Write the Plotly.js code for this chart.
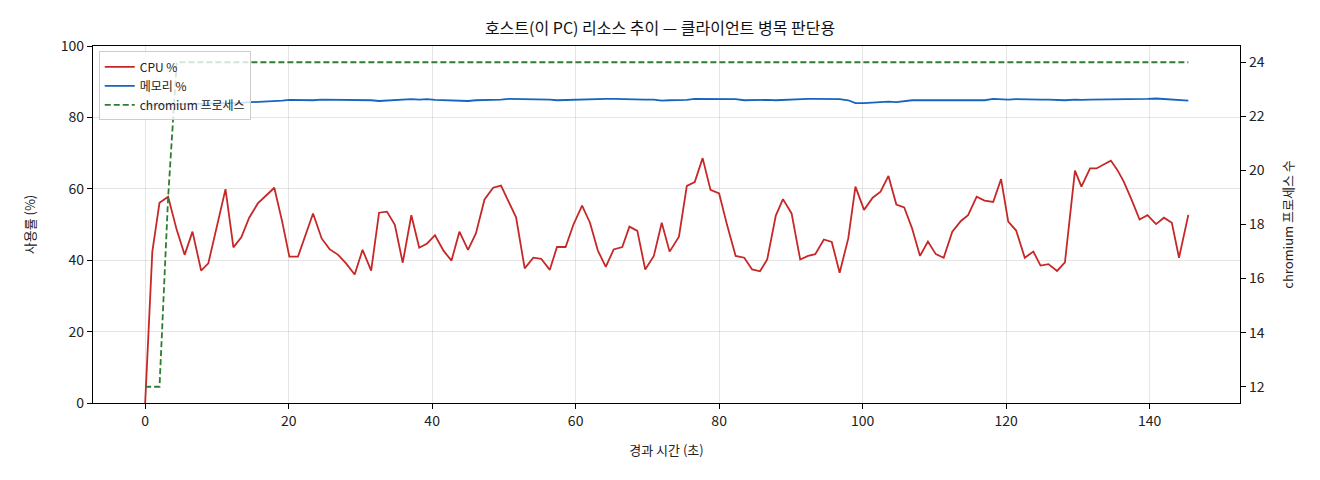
<!DOCTYPE html>
<html>
<head>
<meta charset="utf-8">
<script src="https://cdn.plot.ly/plotly-3.0.1.min.js"></script>
<style>
  html, body { margin: 0; padding: 0; background: #fff; }
  #chart { width: 1320px; height: 480px; }
</style>
</head>
<body>
<div id="chart"></div>
<script>
// elapsed seconds for each sample
var elapsed = [
  0.0, 1.0, 2.0, 3.2, 4.4, 5.5, 6.6, 7.8, 8.8, 10.0,
  11.2, 12.3, 13.4, 14.5, 15.7, 16.9, 18.0, 19.1, 20.1, 21.3,
  22.4, 23.4, 24.6, 25.7, 26.9, 28.0, 29.2, 30.3, 31.5, 32.6,
  33.7, 34.8, 35.9, 37.1, 38.2, 39.3, 40.4, 41.6, 42.7, 43.8,
  45.0, 46.1, 47.3, 48.5, 49.6, 50.7, 51.7, 52.9, 54.1, 55.2,
  56.4, 57.4, 58.6, 59.7, 60.9, 62.0, 63.1, 64.2, 65.3, 66.5,
  67.5, 68.6, 69.7, 70.9, 72.0, 73.1, 74.4, 75.5, 76.6, 77.7,
  78.8, 80.0, 81.1, 82.3, 83.5, 84.6, 85.7, 86.7, 87.9, 88.9,
  90.1, 91.3, 92.4, 93.4, 94.6, 95.7, 96.8, 98.0, 99.0, 100.2,
  101.4, 102.5, 103.6, 104.7, 105.8, 106.9, 108.0, 109.1, 110.2, 111.3,
  112.5, 113.7, 114.7, 115.9, 117.0, 118.2, 119.3, 120.3, 121.4, 122.6,
  123.8, 124.8, 125.9, 127.1, 128.2, 129.6, 130.5, 131.7, 132.6, 133.6,
  134.6, 135.5, 136.4, 137.5, 138.6, 139.7, 140.9, 142.0, 143.1, 144.1,
  145.4
];

var cpuPct = [
  0, 42.4, 56.1, 57.8, 48.5, 41.5, 48.0, 37.1, 39.1, 49.4,
  59.9, 43.6, 46.4, 51.9, 55.9, 58.2, 60.3, 50.8, 41.0, 41.0,
  47.1, 53.1, 46.1, 43.1, 41.5, 39.1, 36.0, 42.9, 37.1, 53.3,
  53.6, 49.9, 39.3, 52.6, 43.5, 44.7, 47.0, 42.6, 39.9, 48.0,
  42.9, 47.5, 57.0, 60.3, 60.9, 56.4, 52.0, 37.7, 40.7, 40.4,
  37.3, 43.7, 43.7, 50.0, 55.3, 50.5, 42.7, 38.1, 43.0, 43.7,
  49.4, 48.2, 37.4, 41.2, 50.5, 42.4, 46.6, 60.8, 61.9, 68.6,
  59.7, 58.7, 49.9, 41.2, 40.7, 37.4, 36.9, 40.2, 52.5, 57.1,
  53.1, 40.2, 41.2, 41.7, 45.8, 45.1, 36.5, 46.1, 60.6, 54.1,
  57.5, 59.2, 63.6, 55.6, 54.8, 48.9, 41.2, 45.2, 41.7, 40.7,
  48.0, 51.0, 52.6, 57.8, 56.7, 56.3, 62.7, 50.8, 48.3, 40.7,
  42.4, 38.5, 38.9, 37.0, 39.4, 65.1, 60.6, 65.7, 65.7, 66.8,
  67.9, 65.3, 62.0, 56.9, 51.4, 52.6, 50.1, 51.9, 50.5, 40.7,
  52.7
];

var memPct = [
  83.3, 83.4, 83.5, 83.6, 83.6, 83.7, 83.8, 83.8, 83.9, 83.9,
  84.0, 84.0, 84.1, 84.1, 84.2, 84.3, 84.5, 84.7, 84.9, 84.8,
  84.9, 84.8, 85.0, 85.0, 84.8, 84.9, 84.9, 84.9, 84.8, 84.6,
  84.7, 84.9, 85.1, 85.1, 85.0, 85.1, 84.9, 84.8, 84.7, 84.5,
  84.6, 84.8, 84.8, 84.9, 85.0, 85.2, 85.2, 85.1, 85.2, 85.1,
  85.0, 84.8, 84.9, 84.9, 85.0, 85.1, 85.2, 85.2, 85.2, 85.1,
  85.2, 85.1, 85.0, 85.0, 84.7, 84.8, 84.9, 84.9, 85.2, 85.2,
  85.2, 85.3, 85.2, 85.1, 84.8, 84.9, 84.9, 84.9, 84.8, 84.9,
  85.1, 85.2, 85.2, 85.2, 85.2, 85.2, 85.1, 84.8, 84.0, 84.0,
  84.1, 84.4, 84.4, 84.3, 84.6, 84.8, 84.8, 84.8, 84.8, 84.9,
  84.9, 84.9, 84.7, 84.9, 84.8, 85.2, 85.0, 85.0, 85.1, 85.0,
  84.9, 85.0, 85.0, 84.9, 84.8, 85.0, 84.9, 85.0, 85.0, 85.0,
  85.1, 85.2, 85.2, 85.2, 85.2, 85.2, 85.3, 85.2, 85.1, 85.0,
  84.7
];

var chromiumCount = [
  12, 12, 12, 19, 24, 24, 24, 24, 24, 24,
  24, 24, 24, 24, 24, 24, 24, 24, 24, 24,
  24, 24, 24, 24, 24, 24, 24, 24, 24, 24,
  24, 24, 24, 24, 24, 24, 24, 24, 24, 24,
  24, 24, 24, 24, 24, 24, 24, 24, 24, 24,
  24, 24, 24, 24, 24, 24, 24, 24, 24, 24,
  24, 24, 24, 24, 24, 24, 24, 24, 24, 24,
  24, 24, 24, 24, 24, 24, 24, 24, 24, 24,
  24, 24, 24, 24, 24, 24, 24, 24, 24, 24,
  24, 24, 24, 24, 24, 24, 24, 24, 24, 24,
  24, 24, 24, 24, 24, 24, 24, 24, 24, 24,
  24, 24, 24, 24, 24, 24, 24, 24, 24, 24,
  24, 24, 24, 24, 24, 24, 24, 24, 24, 24,
  24
];

var FONT = '"Noto Sans CJK KR", "Noto Sans", sans-serif';

var cpuTrace = {
  x: elapsed, y: cpuPct,
  name: 'CPU %',
  type: 'scatter', mode: 'lines',
  line: { color: '#c62828', width: 1.8 }
};

var memTrace = {
  x: elapsed, y: memPct,
  name: '메모리 %',
  type: 'scatter', mode: 'lines',
  line: { color: '#1565c0', width: 1.8 }
};

var chromiumTrace = {
  x: elapsed, y: chromiumCount,
  name: 'chromium 프로세스',
  type: 'scatter', mode: 'lines',
  yaxis: 'y2',
  line: { color: '#2e7d32', width: 1.8, dash: '6px,3px' }
};

var layout = {
  width: 1320,
  height: 480,
  margin: { l: 93, r: 80, t: 46, b: 77 },
  paper_bgcolor: '#ffffff',
  plot_bgcolor: '#ffffff',
  font: { family: FONT, size: 13, color: '#222' },
  title: {
    text: '호스트(이 PC) 리소스 추이 — 클라이언트 병목 판단용',
    font: { family: FONT, size: 16, color: '#111' },
    x: 0.5, xanchor: 'center', y: 0.94, yanchor: 'middle'
  },
  showlegend: true,
  legend: {
    x: 0.005, y: 0.985, xanchor: 'left', yanchor: 'top',
    bgcolor: 'rgba(255,255,255,0.8)',
    bordercolor: '#cccccc', borderwidth: 1,
    font: { family: FONT, size: 12, color: '#222' },
    tracegroupgap: 0
  },
  xaxis: {
    range: [-7.27, 152.6],
    tick0: 0, dtick: 20,
    ticks: 'outside', ticklen: 5, tickcolor: '#000',
    showline: true, linecolor: '#000', linewidth: 1.2, mirror: true,
    showgrid: true, gridcolor: 'rgba(0,0,0,0.1)',
    zeroline: false,
    tickfont: { size: 14 },
    title: { text: '경과 시간 (초)', font: { family: FONT, size: 13 }, standoff: 16 }
  },
  yaxis: {
    range: [0, 100],
    tick0: 0, dtick: 20,
    ticks: 'outside', ticklen: 5, tickcolor: '#000',
    showline: true, linecolor: '#000', linewidth: 1.2, mirror: true,
    showgrid: true, gridcolor: 'rgba(0,0,0,0.1)',
    zeroline: false,
    tickfont: { size: 14 },
    title: { text: '사용률 (%)', font: { family: FONT, size: 13 }, standoff: 22 }
  },
  yaxis2: {
    overlaying: 'y', side: 'right',
    range: [11.4, 24.6],
    tick0: 12, dtick: 2,
    ticks: 'outside', ticklen: 5, tickcolor: '#000',
    showline: true, linecolor: '#000', linewidth: 1.2,
    showgrid: false, zeroline: false,
    tickfont: { size: 14 },
    title: { text: 'chromium 프로세스 수', font: { family: FONT, size: 13 }, standoff: 20 }
  }
};

Plotly.newPlot('chart', [cpuTrace, memTrace, chromiumTrace], layout, { displayModeBar: false, staticPlot: true });
</script>
</body>
</html>
